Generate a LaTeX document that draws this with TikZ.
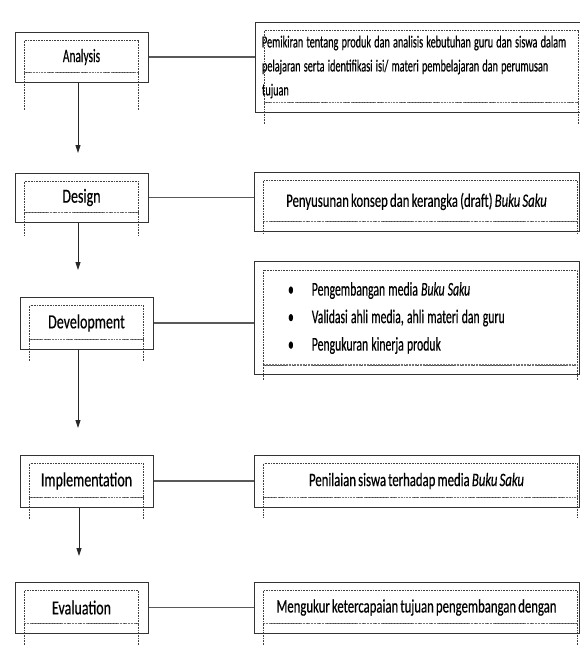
\documentclass[tikz,border=0pt]{standalone}
\usepackage{fontspec}
\setmainfont{Carlito}[FakeStretch=0.7, WordSpace=0.8, FakeBold=0.4]
\newfontfamily\descfont{Carlito}[FakeStretch=0.67, WordSpace=0.75, FakeBold=0.4]
\newfontfamily\tightfont{Carlito}[FakeStretch=0.6, FakeBold=0.4]
\newcommand\tightspace{\spaceskip=3.2pt plus 1pt\relax\xspaceskip=3.6pt\relax}
\usepackage{tikz}
\usetikzlibrary{positioning}
\usetikzlibrary{arrows.meta}

\tikzset{
  stage/.style={draw=black!80, line width=1pt, minimum width=133pt, inner sep=0pt,
    font=\fontsize{20}{22}\selectfont, text=black},
  desc/.style={draw=black!80, line width=1pt, minimum width=325pt, inner sep=0pt,
    font=\descfont\fontsize{19}{24}\selectfont, text=black},
  link/.style={line width=1.3pt, black!65},
  flow/.style={-{Triangle[width=5pt,length=8pt]}, line width=0.8pt, black!85},
  dots/.style={densely dotted, line width=0.6pt, black!75},
  rim/.style={densely dotted, line width=1.8pt, black!55},
}

\begin{document}
\begin{tikzpicture}[x=1pt,y=-1pt]
\useasboundingbox (0,0) rectangle (580,646);

% stages
\node[stage, minimum height=50pt, font=\tightfont\fontsize{19}{20}\selectfont] (analysis) at (81.5,57) {Analysis};
\node[stage, minimum height=49pt] (design) at (81.5,197.5) {Design};
\node[stage, minimum height=52pt] (development) at (86.5,323) {Development};
\node[stage, minimum height=52pt] (implementation) at (86.5,481) {Implementation};
\node[stage, minimum height=51pt] (evaluation) at (81.5,607.5) {Evaluation};

% descriptions
\node[desc, minimum height=90pt, text width=311pt, align=left,
  font=\tightfont\fontsize{17}{24}\selectfont] (analysisdesc) at (417.5,67)
  {\tightspace Pemikiran tentang produk dan analisis kebutuhan guru dan siswa dalam\\
   pelajaran serta identifikasi isi/ materi pembelajaran dan perumusan\\
   tujuan};
\node[desc, minimum height=59pt] (designdesc) at (416.5,201.5)
  {\raisebox{3pt}{Penyusunan konsep dan kerangka (draft) \textit{Buku Saku}}};
\node[desc, minimum height=113pt, text width=309pt, align=left,
  font=\tightfont\fontsize{19.5}{27.5}\selectfont] (developmentdesc) at (416.5,318)
  {\tightspace
   \hspace*{26pt}\textbullet\hspace{18pt}Pengembangan media \textit{Buku Saku}\\
   \hspace*{26pt}\textbullet\hspace{18pt}Validasi ahli media, ahli materi dan guru\\
   \hspace*{26pt}\textbullet\hspace{18pt}Pengukuran kinerja produk};
\node[desc, minimum height=52pt] (implementationdesc) at (416.5,481)
  {Penilaian siswa terhadap media \textit{Buku Saku}};
\node[desc, minimum height=51pt] (evaluationdesc) at (416.5,607.5)
  {Mengukur ketercapaian tujuan pengembangan dengan};

% inner dotted frames
\foreach \n/\d in {analysis/28,design/13,development/12,implementation/11,evaluation/20} {
  \draw[dots] ([shift={(10,9)}]\n.north west) rectangle ([shift={(-10,-10)}]\n.south east);
  \draw[dots] ([shift={(10,-10)}]\n.south west) -- ([shift={(10,\d)}]\n.south west);
  \draw[dots] ([shift={(-10,-10)}]\n.south east) -- ([shift={(-10,\d)}]\n.south east);
  \draw[rim] ([shift={(10,-10)}]\n.south west) -- ([shift={(-10,-10)}]\n.south east);
}
\foreach \n/\d in {analysisdesc/11,designdesc/2,developmentdesc/5,implementationdesc/10,evaluationdesc/15} {
  \draw[dots] ([shift={(10,9)}]\n.north west) rectangle ([shift={(-2,-10)}]\n.south east);
  \draw[dots] ([shift={(10,-10)}]\n.south west) -- ([shift={(10,\d)}]\n.south west);
  \draw[dots] ([shift={(-2,-10)}]\n.south east) -- ([shift={(-2,\d)}]\n.south east);
  \draw[rim] ([shift={(10,-10)}]\n.south west) -- ([shift={(-2,-10)}]\n.south east);
}

% links
\foreach \n in {analysis,design,development,implementation,evaluation} {
  \draw[link] (\n.east) -- (\n.east -| \n desc.west);
}

% arrows
\coordinate (designtip) at (78,153);
\coordinate (developmenttip) at (78,270);
\coordinate (implementationtip) at (78,428);
\coordinate (evaluationtip) at (79,556);
\draw[flow] (designtip |- analysis.south) -- (designtip);
\draw[flow] (developmenttip |- design.south) -- (developmenttip);
\draw[flow] (implementationtip |- development.south) -- (implementationtip);
\draw[flow] (evaluationtip |- implementation.south) -- (evaluationtip);
\end{tikzpicture}
\end{document}
